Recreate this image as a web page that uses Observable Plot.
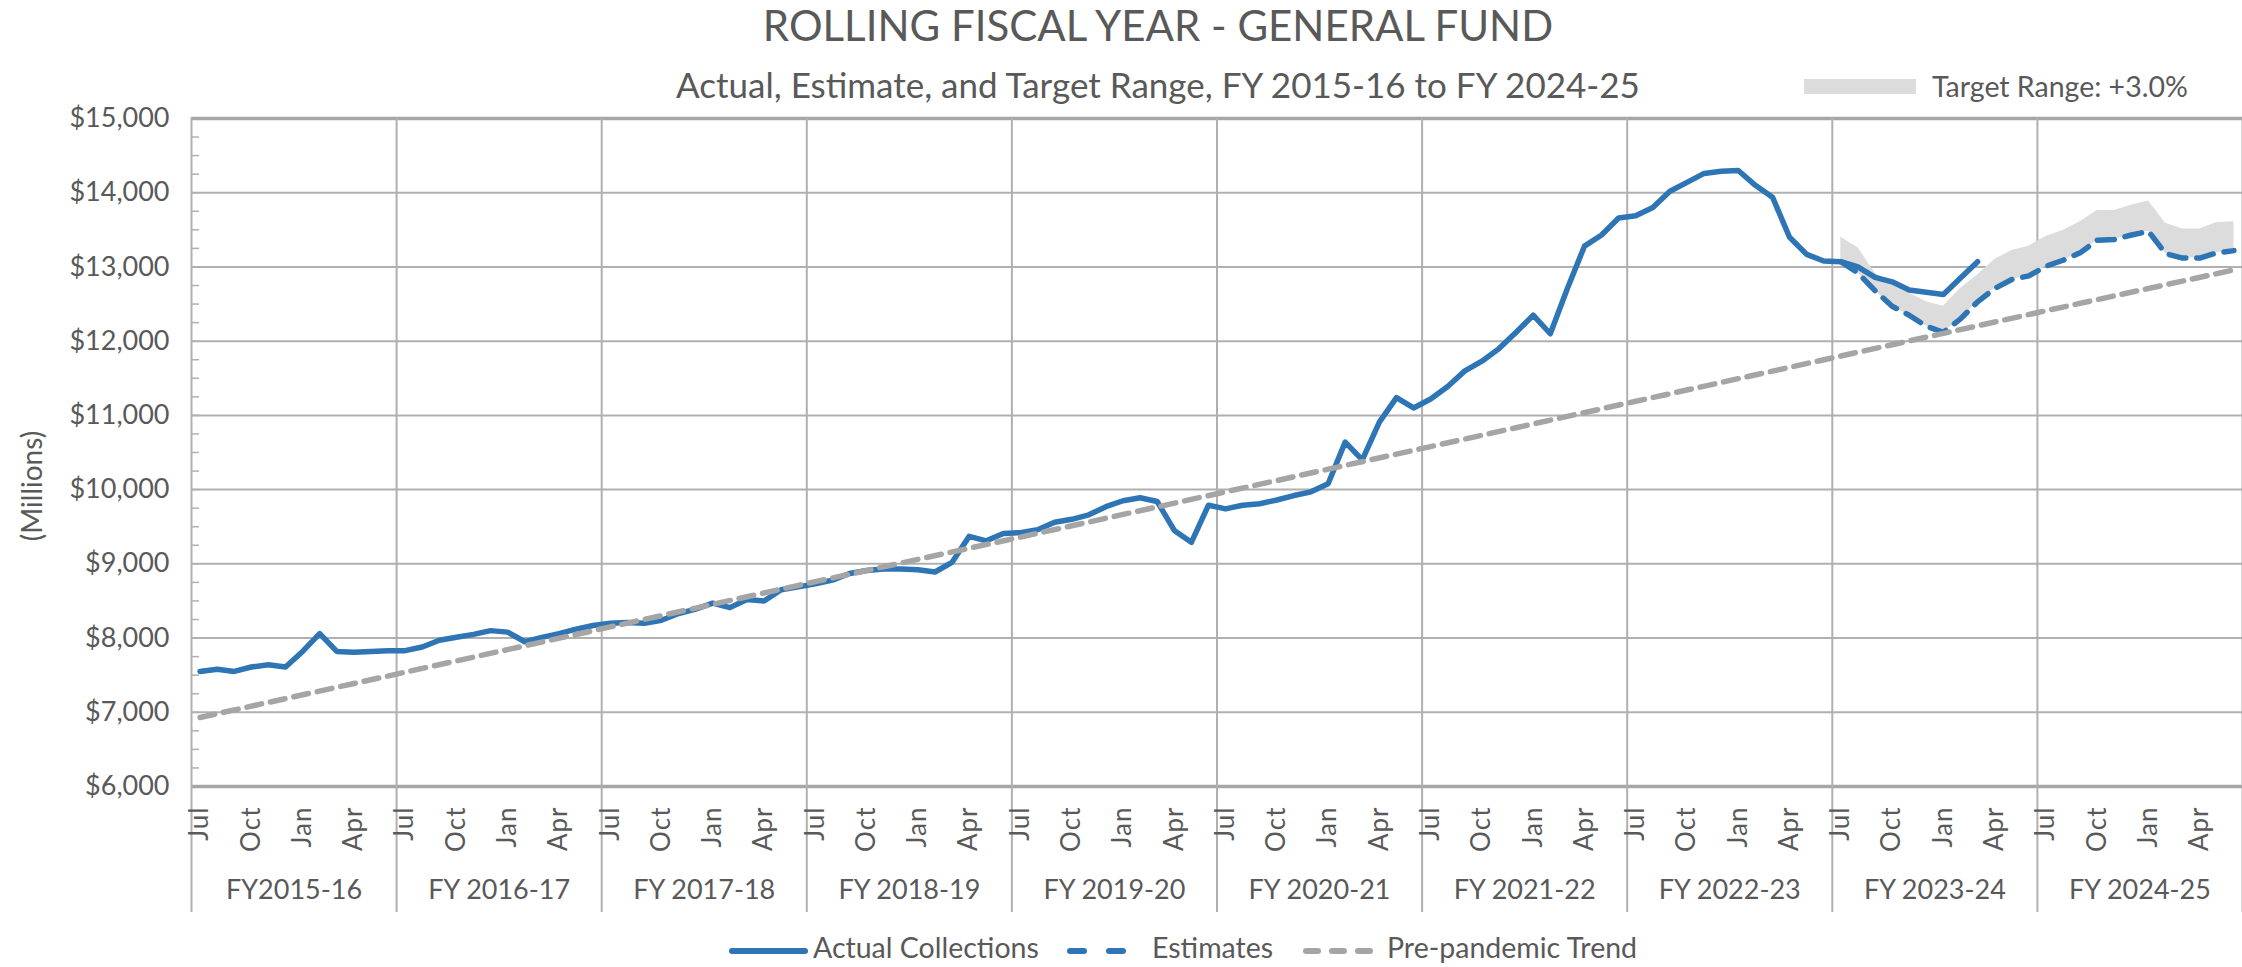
<!DOCTYPE html>
<html><head><meta charset="utf-8">
<script src="https://cdn.jsdelivr.net/npm/d3@7"></script>
<script src="https://cdn.jsdelivr.net/npm/@observablehq/plot@0.6"></script>
<style>
body{margin:0;background:#fff;font-family:Lato,sans-serif;color:#595959;}
#wrap{position:relative;width:2242px;height:967px;overflow:hidden;}
.t{position:absolute;white-space:nowrap;line-height:1;}
</style></head><body><div id="wrap"></div>
<script>
// ---- data ----
const fyLabels = ["FY2015-16","FY 2016-17","FY 2017-18","FY 2018-19","FY 2019-20","FY 2020-21","FY 2021-22","FY 2022-23","FY 2023-24","FY 2024-25"];
const monthTickNames = ["Jul","Oct","Jan","Apr"];
const yTickValues = [6000,7000,8000,9000,10000,11000,12000,13000,14000,15000];
// Actual collections, Jul 2015 .. Mar 2024
const actualFY1516 = [7550,7580,7550,7610,7640,7610,7820,8060,7820,7810,7820,7830];
const actualFY1617 = [7830,7880,7970,8010,8050,8100,8080,7950,8010,8060,8120,8170];
const actualFY1718 = [8200,8210,8200,8240,8330,8390,8470,8410,8520,8500,8650,8690];
const actualFY1819 = [8730,8780,8870,8910,8930,8930,8920,8890,9020,9370,9310,9410];
const actualFY1920 = [9420,9460,9560,9600,9660,9770,9850,9890,9840,9450,9290,9790];
const actualFY2021 = [9740,9790,9810,9860,9920,9970,10080,10640,10400,10910,11240,11100];
const actualFY2122 = [11220,11390,11600,11730,11900,12120,12350,12100,12710,13280,13430,13660];
const actualFY2223 = [13690,13800,14020,14140,14260,14290,14300,14100,13940,13400,13170,13080];
const actualFY2324 = [13070,13000,12860,12800,12690,12660,12630,12850,13070];
// Estimates, Jul 2023 .. Jun 2025
const estimates = [13070,12920,12680,12470,12350,12200,12120,12300,12530,12710,12830,12880,
                   13010,13090,13190,13360,13370,13430,13480,13180,13120,13120,13190,13220];
// Target range upper edge (+3.0%), Jul 2023 .. Jun 2025
const targetUpper = [13400,13260,12920,12770,12650,12530,12470,12710,12890,13100,13220,13280,
                     13410,13490,13610,13760,13760,13830,13890,13590,13510,13510,13600,13610];
// Pre-pandemic trend read at each July and at Jun 2025
const trendMonthIdx = [0,12,24,36,48,60,72,84,96,108,119];
const trendValues  = [6930,7540,8150,8760,9360,9970,10580,11190,11800,12410,12960];

// ---- build tables ----
const actual = [].concat(actualFY1516,actualFY1617,actualFY1718,actualFY1819,actualFY1920,actualFY2021,actualFY2122,actualFY2223,actualFY2324)
  .map((v,i)=>({i, v}));
const estStart = 96;
const est = estimates.map((v,k)=>({i:estStart+k, v}));
const band = estimates.map((v,k)=>({i:estStart+k, lo:v, hi:targetUpper[k]}));
const trend = trendValues.map((v,k)=>({i:trendMonthIdx[k], v}));
const nMonths = fyLabels.length*12;
const fyBounds = d3.range(0, fyLabels.length+1).map(k=>k*12-0.5);
const fyCenters = d3.range(0, fyLabels.length).map(k=>k*12+5.5);
const monthTicks = d3.range(0, nMonths, 3);
const minorTicks = d3.range(6000, 15001, 250);

const W=2242, H=967, ML=191;
const blue="#2E75B6", grid="#b0b0b0", txt="#595959";

const chart = Plot.plot({
  width:W, height:H, marginLeft:ML, marginRight:0, marginTop:118, marginBottom:181,
  x:{domain:[-0.5, nMonths-0.5], axis:null, label:null},
  y:{domain:[6000,15000], axis:null, label:null},
  style:{fontFamily:"Lato, sans-serif", color:txt, background:"transparent", overflow:"visible"},
  marks:[
    Plot.ruleY(minorTicks, {stroke:grid, strokeWidth:1.5, insetRight: W-ML-8}),
    Plot.ruleY(yTickValues.slice(1,-1), {stroke:grid, strokeWidth:2}),
    Plot.ruleY([yTickValues[0], yTickValues[yTickValues.length-1]], {stroke:"#a6a6a6", strokeWidth:3.5}),
    Plot.ruleX(fyBounds, {stroke:grid, strokeWidth:2, insetBottom:-126}),
    Plot.areaY(band, {x:"i", y1:"lo", y2:"hi", fill:"#dcdcdc"}),
    Plot.line(actual, {x:"i", y:"v", stroke:blue, strokeWidth:5.5, strokeLinejoin:"round"}),
    Plot.line(est, {x:"i", y:"v", stroke:blue, strokeWidth:5.5, strokeDasharray:"17,11", strokeLinejoin:"round"}),
    Plot.line(trend, {x:"i", y:"v", stroke:"#a5a5a5", strokeWidth:5.5, strokeDasharray:"15,9"}),
    Plot.axisY(yTickValues, {tickSize:0, tickPadding:22, fontSize:27, tickFormat:d=>"$"+d3.format(",")(d), label:null}),
    Plot.axisX(monthTicks, {tickSize:0, tickRotate:-90, tickPadding:20, fontSize:26, tickFormat:i=>monthTickNames[(i%12)/3], label:null}),
    Plot.axisX(fyCenters, {tickSize:0, tickPadding:93, fontSize:27, tickFormat:d=>fyLabels[Math.floor(d/12)], label:null})
  ]
});
const wrap = document.getElementById("wrap");
wrap.appendChild(chart);
chart.querySelectorAll("text").forEach(t=>{ if(monthTickNames.includes(t.textContent)) t.style.letterSpacing="1px"; });

function addText(s, left, top, size, extra){
  const d=document.createElement("div"); d.className="t"; d.textContent=s;
  d.style.left=left+"px"; d.style.top=top+"px"; d.style.fontSize=size+"px";
  if(extra) Object.assign(d.style, extra);
  wrap.appendChild(d); return d;
}
addText("ROLLING FISCAL YEAR - GENERAL FUND", 1158, 4, 42, {transform:"translateX(-50%)"});
addText("Actual, Estimate, and Target Range, FY 2015-16 to FY 2024-25", 1158, 67, 35, {transform:"translateX(-50%)"});
addText("(Millions)", 31, 486, 28, {transform:"translate(-50%,-50%) rotate(-90deg)"});
// top-right legend
const sw=document.createElement("div");
Object.assign(sw.style,{position:"absolute",left:"1804px",top:"79px",width:"112px",height:"15px",background:"#dcdcdc"});
wrap.appendChild(sw);
addText("Target Range: +3.0%", 1932, 72, 28.5);
// bottom legend
function swatch(left, width, color, dash){
  const ns="http://www.w3.org/2000/svg";
  const s=document.createElementNS(ns,"svg"); s.setAttribute("width",width); s.setAttribute("height","12");
  s.style.position="absolute"; s.style.left=left+"px"; s.style.top="945px";
  const l=document.createElementNS(ns,"line");
  l.setAttribute("x1","3"); l.setAttribute("x2",width-3); l.setAttribute("y1","6"); l.setAttribute("y2","6");
  l.setAttribute("stroke",color); l.setAttribute("stroke-width","6"); l.setAttribute("stroke-linecap","round");
  if(dash){ l.setAttribute("stroke-dasharray",dash); }
  s.appendChild(l); wrap.appendChild(s);
}
swatch(729, 79, blue, null);
addText("Actual Collections", 813, 933, 28.5);
swatch(1067, 66, blue, "14,25");
addText("Estimates", 1152, 933, 28.5);
swatch(1303, 75, "#a5a5a5", "12,14");
addText("Pre-pandemic Trend", 1387, 933, 28.5);
</script></body></html>
